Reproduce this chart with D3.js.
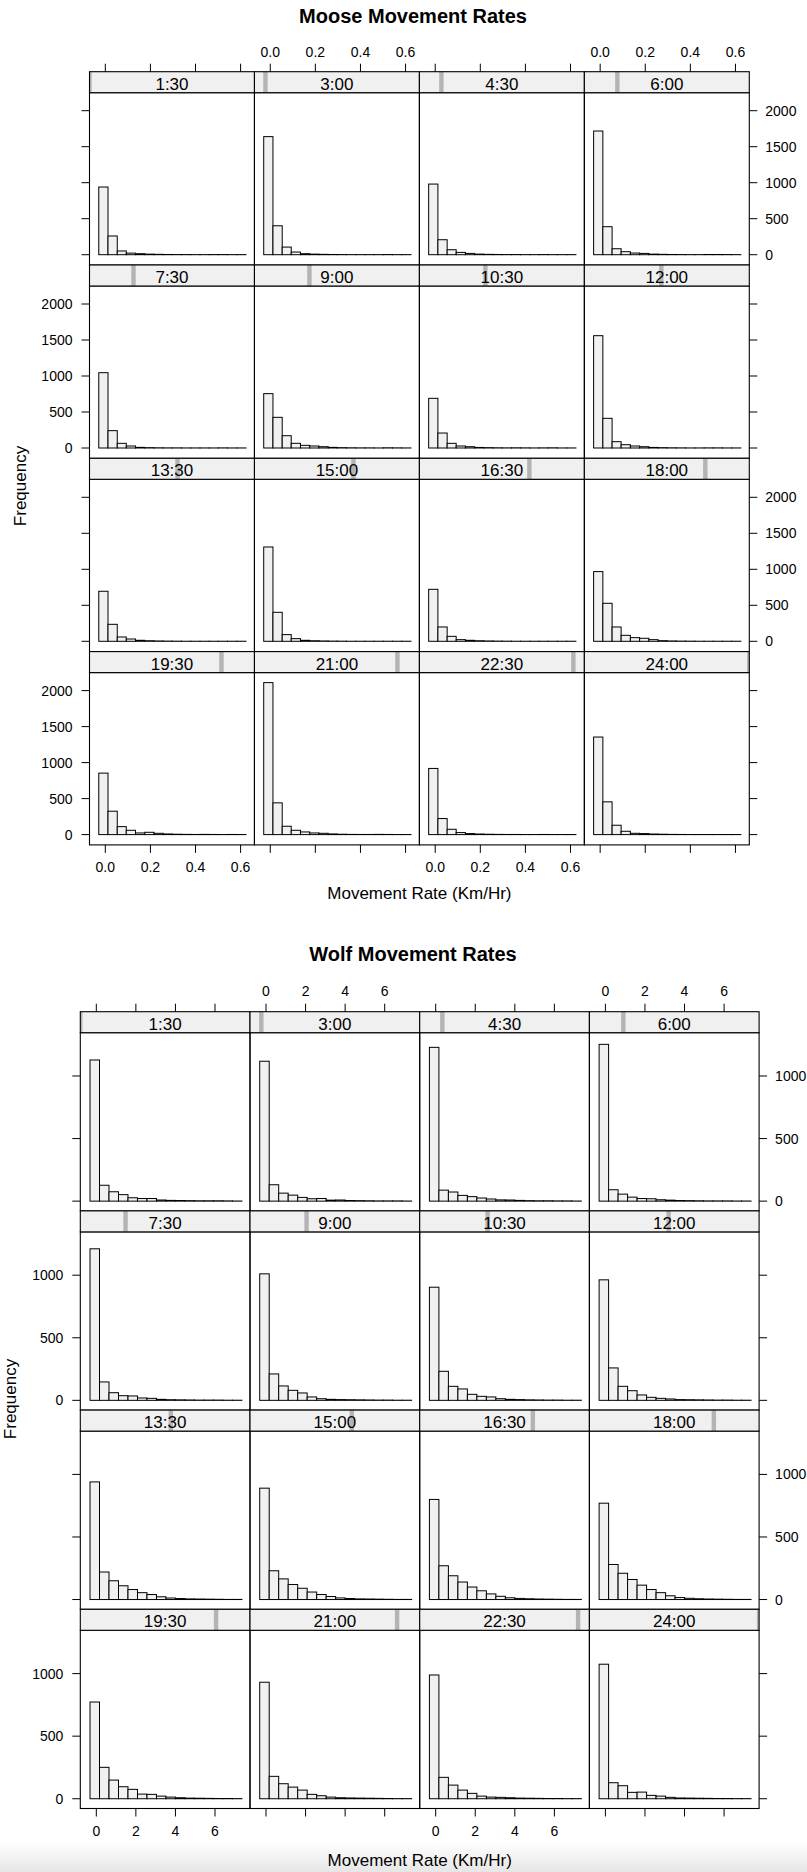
<!DOCTYPE html>
<html><head><meta charset="utf-8">
<script src="https://cdn.jsdelivr.net/npm/d3@7"></script>
<style>
body{margin:0;background:#fff}
svg{display:block}
text{font-family:"Liberation Sans",Arial,Helvetica,sans-serif;fill:#000}
</style>
</head><body>
<svg id="chart" width="807" height="1872"></svg>
<script>
// ---------- DATA ----------
const panelLabels = ["1:30","3:00","4:30","6:00","7:30","9:00","10:30","12:00",
                     "13:30","15:00","16:30","18:00","19:30","21:00","22:30","24:00"];

const mooseBreaks = [-0.029,0.012,0.053,0.093,0.134,0.175,0.216,0.257,0.297,
                     0.338,0.379,0.420,0.461,0.501,0.542,0.583,0.624];
const mooseCounts = [
  [940,260,52,22,14,8,5,3,2,2,1,1,2,2,1,1],
  [1640,402,106,37,14,8,5,3,2,1,1,1,1,2,1,1],
  [981,208,69,32,18,8,5,3,2,2,1,1,2,1,1,1],
  [1718,389,83,42,23,18,8,5,3,2,1,1,3,3,2,1],
  [1046,241,65,28,9,5,3,2,2,1,1,1,1,2,1,1],
  [755,426,171,65,37,28,18,9,5,3,2,2,1,3,2,1],
  [690,208,65,28,18,8,5,3,2,3,2,1,2,3,1,1],
  [1560,412,88,46,28,18,8,5,3,2,1,1,2,2,1,1],
  [695,236,60,32,14,8,5,3,2,1,1,1,1,1,1,1],
  [1310,403,93,37,14,8,5,3,2,1,1,1,1,1,1,1],
  [722,199,69,23,14,8,5,3,2,1,1,1,1,1,1,1],
  [968,528,199,83,51,42,23,9,5,3,2,1,1,1,1,1],
  [854,325,111,60,23,32,18,9,5,3,2,3,2,1,2,1],
  [2111,441,116,60,37,23,18,9,5,3,2,2,3,2,1,1],
  [919,223,74,28,14,8,5,3,2,2,1,1,2,1,1,1],
  [1355,455,130,46,18,14,8,5,3,2,1,1,1,1,1,1]
];

const wolfBreaks = [-0.318,0.162,0.642,1.122,1.602,2.082,2.562,3.042,3.522,
                    4.002,4.482,4.962,5.442,5.922,6.402,6.882,7.362];
const wolfCounts = [
  [1128,127,75,52,27,21,21,9,6,5,4,3,3,3,2,1],
  [1118,131,64,48,30,19,21,8,9,5,4,3,2,2,2,1],
  [1229,88,73,46,36,25,17,10,9,6,4,3,3,2,2,1],
  [1253,91,56,32,21,19,11,8,5,4,3,2,2,2,1,1],
  [1211,147,61,37,35,19,16,8,5,4,3,2,2,2,1,1],
  [1011,211,115,80,59,27,13,8,6,5,4,3,2,2,1,1],
  [904,232,112,91,48,32,27,13,8,6,4,3,2,2,1,1],
  [963,259,112,77,43,24,16,11,6,5,4,3,2,2,1,1],
  [940,220,150,110,80,55,40,22,12,8,5,4,3,2,1,1],
  [890,230,165,120,90,60,40,24,13,8,5,4,3,2,1,1],
  [800,270,190,140,100,70,45,26,14,9,6,4,3,2,1,1],
  [770,280,210,160,115,80,55,30,16,10,6,4,3,2,1,1],
  [773,251,149,96,75,37,35,21,13,8,5,4,3,2,2,1],
  [931,179,120,93,69,35,24,13,8,6,5,4,3,2,1,1],
  [989,171,109,69,43,21,13,11,8,5,4,3,2,2,1,1],
  [1075,128,104,51,53,27,21,11,6,5,4,3,2,2,1,1]
];

const mooseXTicks = [0, 0.2, 0.4, 0.6];
const mooseXTickLabels = ["0.0","0.2","0.4","0.6"];
const mooseYTicks = [0, 500, 1000, 1500, 2000];
const wolfXTicks = [0, 2, 4, 6];
const wolfXTickLabels = ["0","2","4","6"];
const wolfYTicks = [0, 500, 1000];

const titles = ["Moose Movement Rates", "Wolf Movement Rates"];
const xLabel = "Movement Rate (Km/Hr)";
const yLabel = "Frequency";

// ---------- DRAW ----------
const svg = d3.select("#chart");

// faint screenshot shading at the very bottom
const defs = svg.append("defs");
const grad = defs.append("linearGradient").attr("id","shade").attr("x1",0).attr("y1",0).attr("x2",0).attr("y2",1);
grad.append("stop").attr("offset","0%").attr("stop-color","#ffffff");
grad.append("stop").attr("offset","100%").attr("stop-color","#e6e6e6");
svg.append("rect").attr("x",0).attr("y",1842).attr("width",807).attr("height",30).attr("fill","url(#shade)");

function drawBlock(cfg){
  const g = svg.append("g");
  const nCol = 4, nRow = 4;
  const x = d3.scaleLinear().domain(cfg.xDomain).range([0, cfg.colW]);
  const y = d3.scaleLinear().domain(cfg.yDomain).range([cfg.panelH, 0]);
  const gridR = cfg.left + nCol*cfg.colW;
  const gridB = cfg.top + nRow*cfg.rowH;

  // title
  g.append("text").attr("x", cfg.titleX).attr("y", cfg.titleY)
    .attr("text-anchor","middle").attr("font-size",20).attr("font-weight","bold").text(cfg.title);

  cfg.counts.forEach((counts, i) => {
    const r = Math.floor(i / nCol), c = i % nCol;
    const px = cfg.left + c*cfg.colW;
    const sy = cfg.top + r*cfg.rowH;
    const py = sy + cfg.stripH;
    const pg = g.append("g").attr("transform", `translate(${px},${py})`);

    // bars
    const bins = counts.map((v,k) => ({x0: cfg.breaks[k], x1: cfg.breaks[k+1], v}));
    pg.selectAll("rect.bar").data(bins).join("rect").attr("class","bar")
      .attr("x", d => x(d.x0)).attr("width", d => x(d.x1) - x(d.x0))
      .attr("y", d => y(d.v)).attr("height", d => y(0) - y(d.v))
      .attr("fill","#f1f1f1").attr("stroke","#000").attr("stroke-width",1);

    // panel border
    pg.append("rect").attr("x",0).attr("y",0).attr("width",cfg.colW).attr("height",cfg.panelH)
      .attr("fill","none").attr("stroke","#000").attr("stroke-width",1.1);

    // strip
    const sg = g.append("g").attr("transform", `translate(${px},${sy})`);
    sg.append("rect").attr("x",0).attr("y",0).attr("width",cfg.colW).attr("height",cfg.stripH)
      .attr("fill","#f0f0f0");
    const levelX = d3.scaleLinear().domain([0, panelLabels.length-1]).range([0, cfg.colW]);
    const bx0 = Math.max(0, levelX(i) - 2.2), bx1 = Math.min(cfg.colW, levelX(i) + 2.2);
    sg.append("rect").attr("x", bx0).attr("y", 0).attr("width", Math.max(0,bx1-bx0)).attr("height", cfg.stripH)
      .attr("fill","#b4b4b4");
    sg.append("text").attr("x", cfg.colW/2).attr("y", 18).attr("text-anchor","middle")
      .attr("font-size",17).text(panelLabels[i]);
    sg.append("rect").attr("x",0).attr("y",0).attr("width",cfg.colW).attr("height",cfg.stripH)
      .attr("fill","none").attr("stroke","#000").attr("stroke-width",1.1);

    // axes (alternating, lattice style)
    const tick = 8;
    if (r === 0) {
      const ax = g.append("g").attr("transform", `translate(${px},${sy})`);
      ax.selectAll("line").data(cfg.xTicks).join("line")
        .attr("x1", d => x(d)).attr("x2", d => x(d)).attr("y1", 0).attr("y2", -tick)
        .attr("stroke","#000");
      if (c % 2 === 1) {
        ax.selectAll("text").data(cfg.xTicks).join("text")
          .attr("x", d => x(d)).attr("y", cfg.topLabelY - sy).attr("text-anchor","middle")
          .attr("font-size",14).text((d,k) => cfg.xTickLabels[k]);
      }
    }
    if (r === nRow-1) {
      const ax = g.append("g").attr("transform", `translate(${px},${py + cfg.panelH})`);
      ax.selectAll("line").data(cfg.xTicks).join("line")
        .attr("x1", d => x(d)).attr("x2", d => x(d)).attr("y1", 0).attr("y2", tick)
        .attr("stroke","#000");
      if (c % 2 === 0) {
        ax.selectAll("text").data(cfg.xTicks).join("text")
          .attr("x", d => x(d)).attr("y", cfg.bottomLabelY - (py + cfg.panelH)).attr("text-anchor","middle")
          .attr("font-size",14).text((d,k) => cfg.xTickLabels[k]);
      }
    }
    if (c === 0) {
      const ax = g.append("g").attr("transform", `translate(${px},${py})`);
      ax.selectAll("line").data(cfg.yTicks).join("line")
        .attr("x1", 0).attr("x2", -tick).attr("y1", d => y(d)).attr("y2", d => y(d))
        .attr("stroke","#000");
      if (r % 2 === 1) {
        ax.selectAll("text").data(cfg.yTicks).join("text")
          .attr("x", -tick - 9).attr("y", d => y(d)).attr("dy","0.36em").attr("text-anchor","end")
          .attr("font-size",14).text(d => d);
      }
    }
    if (c === nCol-1) {
      const ax = g.append("g").attr("transform", `translate(${px + cfg.colW},${py})`);
      ax.selectAll("line").data(cfg.yTicks).join("line")
        .attr("x1", 0).attr("x2", tick).attr("y1", d => y(d)).attr("y2", d => y(d))
        .attr("stroke","#000");
      if (r % 2 === 0) {
        ax.selectAll("text").data(cfg.yTicks).join("text")
          .attr("x", tick + 8).attr("y", d => y(d)).attr("dy","0.36em").attr("text-anchor","start")
          .attr("font-size",14).text(d => d);
      }
    }
  });

  // axis titles
  g.append("text").attr("x", (cfg.left + gridR)/2).attr("y", cfg.xlabY)
    .attr("text-anchor","middle").attr("font-size",17).text(xLabel);
  g.append("text").attr("transform", `translate(${cfg.ylabX},${cfg.ylabY}) rotate(-90)`)
    .attr("text-anchor","middle").attr("font-size",17).text(yLabel);
}

drawBlock({
  title: titles[0], titleX: 413, titleY: 22.7,
  left: 89.5, top: 71.7, colW: 164.95, rowH: 193.3, stripH: 21, panelH: 172.3,
  xDomain: [-0.0701, 0.6614], yDomain: [-143, 2250],
  breaks: mooseBreaks, counts: mooseCounts,
  xTicks: mooseXTicks, xTickLabels: mooseXTickLabels, yTicks: mooseYTicks,
  topLabelY: 57.3, bottomLabelY: 872.3, xlabY: 899, ylabX: 26, ylabY: 486
});

drawBlock({
  title: titles[1], titleX: 413, titleY: 960.7,
  left: 80.3, top: 1011.7, colW: 169.7, rowH: 199.2, stripH: 21, panelH: 178.2,
  xDomain: [-0.809, 7.77], yDomain: [-78, 1346],
  breaks: wolfBreaks, counts: wolfCounts,
  xTicks: wolfXTicks, xTickLabels: wolfXTickLabels, yTicks: wolfYTicks,
  topLabelY: 996, bottomLabelY: 1836, xlabY: 1866, ylabX: 16, ylabY: 1399
});
</script>
</body></html>
